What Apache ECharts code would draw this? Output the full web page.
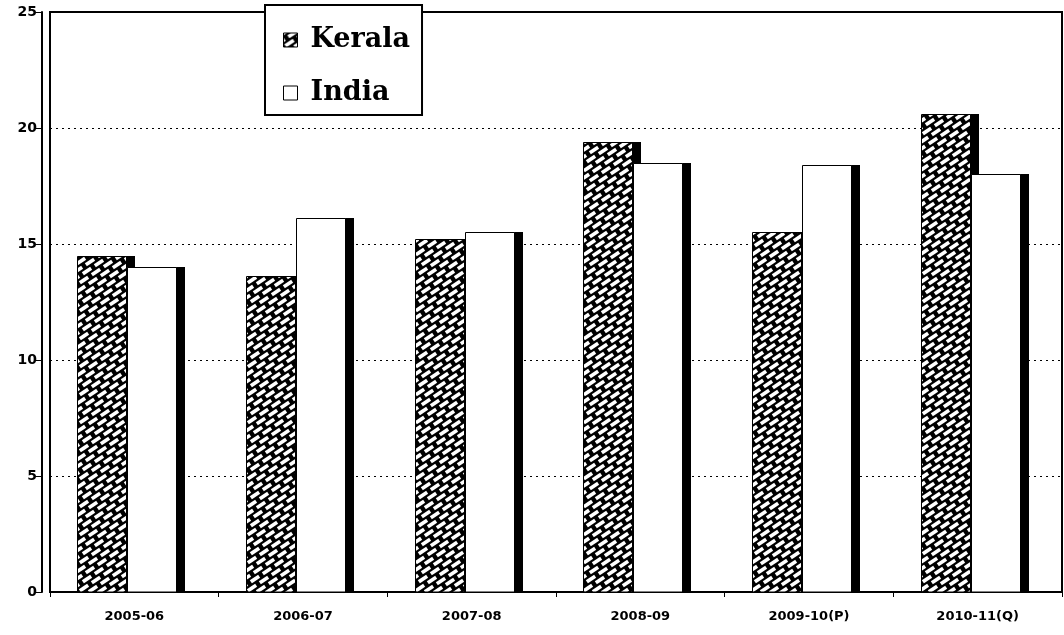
<!DOCTYPE html>
<html>
<head>
<meta charset="utf-8">
<script src="https://cdn.jsdelivr.net/npm/echarts@6/dist/echarts.min.js"></script>
<style>
    html, body { margin: 0; padding: 0; background: #fff; }
    #chart { width: 1064px; height: 635px; }
</style>
</head>
<body>
<div id="chart"></div>
<script>
// 数据
const categories = ["2005-06", "2006-07", "2007-08", "2008-09", "2009-10(P)", "2010-11(Q)"];
const keralaValues = [14.5, 13.6, 15.2, 19.4, 15.5, 20.6];
const indiaValues = [14.0, 16.1, 15.5, 18.5, 18.4, 18.0];
const seriesNames = ["Kerala", "India"];

// 斜纹填充: white diagonal dashes laid in brick rows on black
// lattice A=(12,-8), B=(9,1), det 84 -> 84x84 tile repeats seamlessly
function makeHatch() {
    const size = 84;
    const c = document.createElement("canvas");
    c.width = size;
    c.height = size;
    const ctx = c.getContext("2d");
    ctx.fillStyle = "#000";
    ctx.fillRect(0, 0, size, size);
    ctx.strokeStyle = "#fff";
    ctx.lineWidth = 3.6;
    ctx.lineCap = "butt";
    const len = Math.hypot(12, 8);
    const ux = 12 / len;
    const uy = -8 / len;
    const half = 5;
    for (let i = -40; i <= 40; i++) {
        for (let j = -40; j <= 40; j++) {
            const px = i * 12 + j * 9;
            const py = i * -8 + j * 1;
            if (px < -12 || px > size + 12 || py < -12 || py > size + 12) continue;
            ctx.beginPath();
            ctx.moveTo(px - ux * half, py - uy * half);
            ctx.lineTo(px + ux * half, py + uy * half);
            ctx.stroke();
        }
    }
    return c;
}

const hatch = { image: makeHatch(), repeat: "repeat" };

const BAR_W = 49;
const SHADOW = 9;

// 3D bar: black side shadow + outlined face
function barRenderer(offsetX) {
    return function (params, api) {
        const top = api.coord([api.value(0), api.value(1)]);
        const base = api.coord([api.value(0), 0]);
        const x = Math.round(top[0] + offsetX);
        const y = Math.round(top[1]);
        const h = Math.round(base[1]) - y;
        const style = api.style();
        return {
            type: "group",
            children: [
                {
                    type: "rect",
                    shape: { x: x + SHADOW, y: y, width: BAR_W, height: h },
                    style: { fill: "#000" },
                },
                {
                    type: "rect",
                    shape: { x: x + 0.5, y: y + 0.5, width: BAR_W, height: h - 0.5 },
                    style: { fill: style.fill, stroke: "#000", lineWidth: 1 },
                },
            ],
        };
    };
}

const chart = echarts.init(document.getElementById("chart"), null, { renderer: "canvas" });

chart.setOption({
    animation: false,
    backgroundColor: "#fff",
    grid: {
        left: 50,
        right: 2,
        top: 12,
        bottom: 43,
        show: true,
        borderColor: "#000",
        borderWidth: 2,
    },
    legend: {
        orient: "vertical",
        left: 265,
        top: 5,
        width: 160,
        padding: [20, 12, 7, 18],
        itemGap: 23,
        itemWidth: 14,
        itemHeight: 14,
        backgroundColor: "#fff",
        borderColor: "#000",
        borderWidth: 2,
        itemStyle: { borderColor: "#000", borderWidth: 1 },
        textStyle: {
            fontFamily: "DejaVu Serif",
            fontWeight: "bold",
            fontSize: 27,
            lineHeight: 30,
            color: "#000",
            padding: [0, 0, 0, 8],
        },
        data: [
            { name: seriesNames[0], icon: "rect" },
            { name: seriesNames[1], icon: "rect" },
        ],
    },
    xAxis: {
        type: "category",
        data: categories,
        axisLine: { lineStyle: { color: "#000", width: 2 } },
        axisTick: { show: true, length: 5, lineStyle: { color: "#000" } },
        axisLabel: {
            color: "#000",
            fontFamily: "DejaVu Sans",
            fontWeight: "bold",
            fontSize: 13,
            margin: 18,
        },
    },
    yAxis: {
        type: "value",
        min: 0,
        max: 25,
        interval: 5,
        offset: 8,
        axisLine: { show: true, lineStyle: { color: "#000", width: 2 } },
        axisTick: { show: true, length: 6, lineStyle: { color: "#000" } },
        axisLabel: {
            color: "#000",
            fontFamily: "DejaVu Sans",
            fontWeight: "bold",
            fontSize: 14,
            margin: 5,
        },
        splitLine: { show: true, lineStyle: { color: "#000", type: [2, 4], width: 1 } },
    },
    series: [
        {
            name: seriesNames[0],
            type: "custom",
            data: keralaValues.map((v, i) => [i, v]),
            encode: { x: 0, y: 1 },
            itemStyle: { color: hatch, borderColor: "#000" },
            renderItem: barRenderer(-57),
        },
        {
            name: seriesNames[1],
            type: "custom",
            data: indiaValues.map((v, i) => [i, v]),
            encode: { x: 0, y: 1 },
            itemStyle: { color: "#fff", borderColor: "#000" },
            renderItem: barRenderer(-7),
        },
    ],
});
</script>
</body>
</html>
